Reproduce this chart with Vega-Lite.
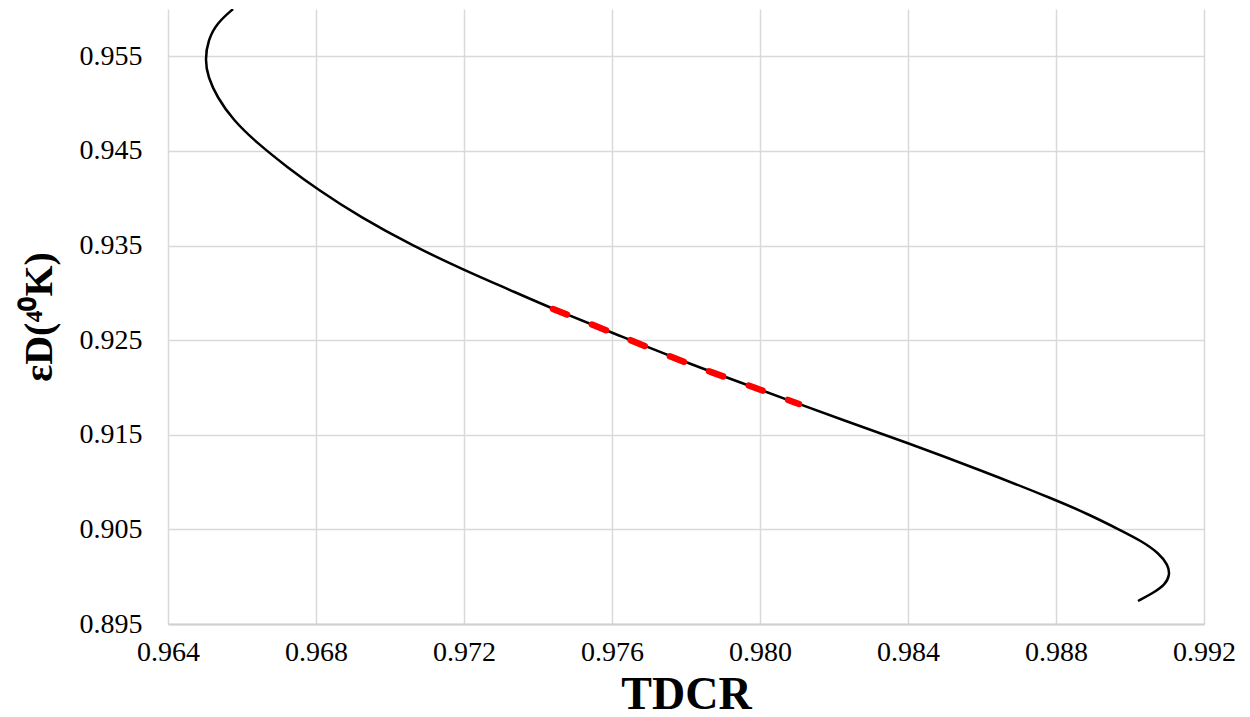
{
  "$schema": "https://vega.github.io/schema/vega-lite/v6.json",
  "width": 1036,
  "height": 615,
  "autosize": {"type": "none"},
  "padding": {"left": 168, "top": 9, "right": 46, "bottom": 93},
  "background": "white",
  "config": {
    "view": {"stroke": null},
    "font": "Liberation Serif",
    "axis": {
      "labelFont": "Liberation Serif",
      "titleFont": "Liberation Serif",
      "labelColor": "#000000",
      "titleColor": "#000000",
      "gridColor": "#d9d9d9",
      "gridWidth": 1.5,
      "ticks": false
    }
  },
  "datasets": {
    "curve": [
      {"i": 1, "tdcr": 0.965757, "eff": 0.960000},
      {"i": 2, "tdcr": 0.965324, "eff": 0.958521},
      {"i": 3, "tdcr": 0.965081, "eff": 0.956724},
      {"i": 4, "tdcr": 0.965000, "eff": 0.954610},
      {"i": 5, "tdcr": 0.965081, "eff": 0.952813},
      {"i": 6, "tdcr": 0.965324, "eff": 0.950699},
      {"i": 7, "tdcr": 0.965757, "eff": 0.948268},
      {"i": 8, "tdcr": 0.966405, "eff": 0.945837},
      {"i": 9, "tdcr": 0.967216, "eff": 0.943301},
      {"i": 10, "tdcr": 0.968027, "eff": 0.940976},
      {"i": 11, "tdcr": 0.969189, "eff": 0.938016},
      {"i": 12, "tdcr": 0.970622, "eff": 0.934952},
      {"i": 13, "tdcr": 0.972000, "eff": 0.932415},
      {"i": 14, "tdcr": 0.973243, "eff": 0.930301},
      {"i": 15, "tdcr": 0.974405, "eff": 0.928293},
      {"i": 16, "tdcr": 0.976027, "eff": 0.925756},
      {"i": 17, "tdcr": 0.978027, "eff": 0.922585},
      {"i": 18, "tdcr": 0.980027, "eff": 0.919732},
      {"i": 19, "tdcr": 0.981054, "eff": 0.918252},
      {"i": 20, "tdcr": 0.982162, "eff": 0.916667},
      {"i": 21, "tdcr": 0.984000, "eff": 0.914130},
      {"i": 22, "tdcr": 0.985946, "eff": 0.911276},
      {"i": 23, "tdcr": 0.988000, "eff": 0.908106},
      {"i": 24, "tdcr": 0.988919, "eff": 0.906520},
      {"i": 25, "tdcr": 0.989730, "eff": 0.904935},
      {"i": 26, "tdcr": 0.990300, "eff": 0.903800},
      {"i": 27, "tdcr": 0.990780, "eff": 0.902504},
      {"i": 28, "tdcr": 0.991030, "eff": 0.901236},
      {"i": 29, "tdcr": 0.991080, "eff": 0.900179},
      {"i": 30, "tdcr": 0.990946, "eff": 0.899122},
      {"i": 31, "tdcr": 0.990622, "eff": 0.898276},
      {"i": 32, "tdcr": 0.990216, "eff": 0.897431}
    ],
    "red": [
      {"i": 1, "tdcr": 0.974405, "eff": 0.928293},
      {"i": 2, "tdcr": 0.976027, "eff": 0.925756},
      {"i": 3, "tdcr": 0.978027, "eff": 0.922585},
      {"i": 4, "tdcr": 0.980027, "eff": 0.919732},
      {"i": 5, "tdcr": 0.981054, "eff": 0.918252}
    ]
  },
  "encoding": {
    "x": {
      "field": "tdcr",
      "type": "quantitative",
      "scale": {"domain": [0.964, 0.992], "nice": false, "zero": false},
      "axis": {
        "title": "TDCR",
        "titleFontSize": 46,
        "titleFontWeight": "bold",
        "titlePadding": 6,
        "labelFontSize": 28,
        "labelPadding": 14,
        "values": [0.964, 0.968, 0.972, 0.976, 0.98, 0.984, 0.988, 0.992],
        "format": ".3f",
        "domainColor": "#d0d0d0",
        "domainWidth": 2,
        "labelFlush": false
      }
    },
    "y": {
      "field": "eff",
      "type": "quantitative",
      "scale": {"domain": [0.895, 0.96], "nice": false, "zero": false},
      "axis": {
        "title": "εD(⁴⁰K)",
        "titleFontSize": 40,
        "titleFontWeight": "bold",
        "titlePadding": 20,
        "labelFontSize": 28,
        "labelPadding": 26,
        "values": [0.895, 0.905, 0.915, 0.925, 0.935, 0.945, 0.955],
        "format": ".3f",
        "domain": false,
        "labelFlush": false
      }
    },
    "order": {"field": "i", "type": "quantitative"}
  },
  "layer": [
    {
      "data": {"name": "curve"},
      "mark": {"type": "line", "color": "#000000", "strokeWidth": 2.5, "interpolate": "basis", "clip": true}
    },
    {
      "data": {"name": "red"},
      "mark": {"type": "line", "color": "#ff0000", "strokeWidth": 6.5, "strokeDash": [15, 27], "strokeCap": "round", "interpolate": "catmull-rom"}
    }
  ]
}
